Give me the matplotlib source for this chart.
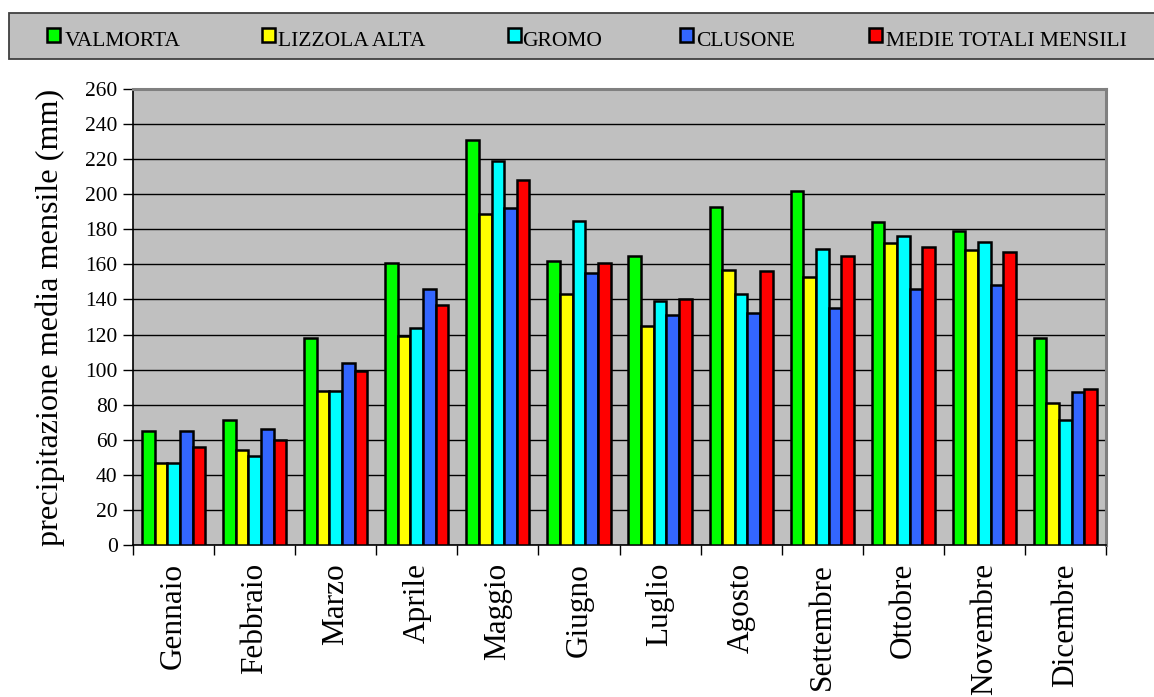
import matplotlib
matplotlib.use("Agg")
import matplotlib.pyplot as plt
from matplotlib.patches import Rectangle
import numpy as np

# Monthly mean precipitation (mm) per station
months = ["Gennaio", "Febbraio", "Marzo", "Aprile", "Maggio", "Giugno",
          "Luglio", "Agosto", "Settembre", "Ottobre", "Novembre", "Dicembre"]
valmorta = [65, 71, 118, 161, 231, 162, 165, 193, 202, 184, 179, 118]
lizzola_alta = [47, 54, 88, 119, 189, 143, 125, 157, 153, 172, 168, 81]
gromo = [47, 51, 88, 124, 219, 185, 139, 143, 169, 176, 173, 71]
clusone = [65, 66, 104, 146, 192, 155, 131, 132, 135, 146, 148, 87]
medie = [56, 60, 99, 137, 208, 161, 140, 156, 165, 170, 167, 89]

series_names = ["VALMORTA", "LIZZOLA ALTA", "GROMO", "CLUSONE", "MEDIE TOTALI MENSILI"]
series_values = [valmorta, lizzola_alta, gromo, clusone, medie]
colors = ["#00FF00", "#FFFF00", "#00FFFF", "#3366FF", "#FF0000"]
y_ticks = list(range(0, 261, 20))

plt.rcParams["font.family"] = ["Liberation Serif", "DejaVu Serif"]

W, H = 1154, 697
fig = plt.figure(figsize=(W / 100, H / 100), dpi=100)
fig.patch.set_facecolor("white")

# plot area in pixel coordinates
left, right, top, bottom = 133, 1106, 89, 545
ax = fig.add_axes([left / W, 1 - bottom / H, (right - left) / W, (bottom - top) / H])
ax.set_facecolor("#C0C0C0")

n = len(months)
x = np.arange(n)
bw = 0.156
offsets = (np.arange(len(series_values)) - 2) * bw
for vals, off, col in zip(series_values, offsets, colors):
    ax.bar(x + off, vals, width=bw, color=col, edgecolor="black",
           linewidth=1.8, zorder=3)

ax.set_xlim(-0.5, n - 0.5)
ax.set_ylim(0, 260)
ax.set_yticks(y_ticks)
ax.set_yticklabels([str(v) for v in y_ticks], fontsize=15.5)
ax.yaxis.grid(True, color="black", linewidth=1.0, zorder=0)
ax.set_axisbelow(True)

# category labels centred, tick marks on the category boundaries
ax.set_xticks(np.arange(-0.5, n, 1.0))
ax.set_xticklabels([])
ax.set_xticks(x, minor=True)
ax.set_xticklabels(months, minor=True, rotation=90, fontsize=22.5, va="top")
ax.tick_params(axis="x", which="minor", length=0, pad=13)
ax.tick_params(axis="x", which="major", length=7, width=1.0, direction="out")
ax.tick_params(axis="y", length=7, width=1.0, direction="out", pad=4)

for side in ("left", "bottom"):
    ax.spines[side].set_color("black")
    ax.spines[side].set_linewidth(1.2)
for side in ("top", "right"):
    ax.spines[side].set_color("#808080")
    ax.spines[side].set_linewidth(2.2)

fig.text(50 / W, 1 - 317 / H, "precipitazione media mensile (mm)",
         rotation=90, ha="center", va="center", fontsize=23.2)

# legend strip across the top
fig.patches.append(Rectangle((8.5 / W, 1 - 59 / H), (1160 - 8.5) / W, (59 - 13.5) / H,
                             transform=fig.transFigure, facecolor="#C0C0C0",
                             edgecolor="#404040", linewidth=1.3, zorder=1))
marker_x = [47, 262, 508, 680, 869]
text_x = [65, 278, 522, 696, 886]
for name, col, mx, tx in zip(series_names, colors, marker_x, text_x):
    fig.patches.append(Rectangle((mx / W, 1 - 42 / H), 12.5 / W, 13.5 / H,
                                 transform=fig.transFigure, facecolor=col,
                                 edgecolor="black", linewidth=1.8, zorder=2))
    fig.text(tx / W, 1 - 46.5 / H, name, ha="left", va="baseline",
             fontsize=15.5, zorder=3)

fig.savefig("out.png", dpi=100)
